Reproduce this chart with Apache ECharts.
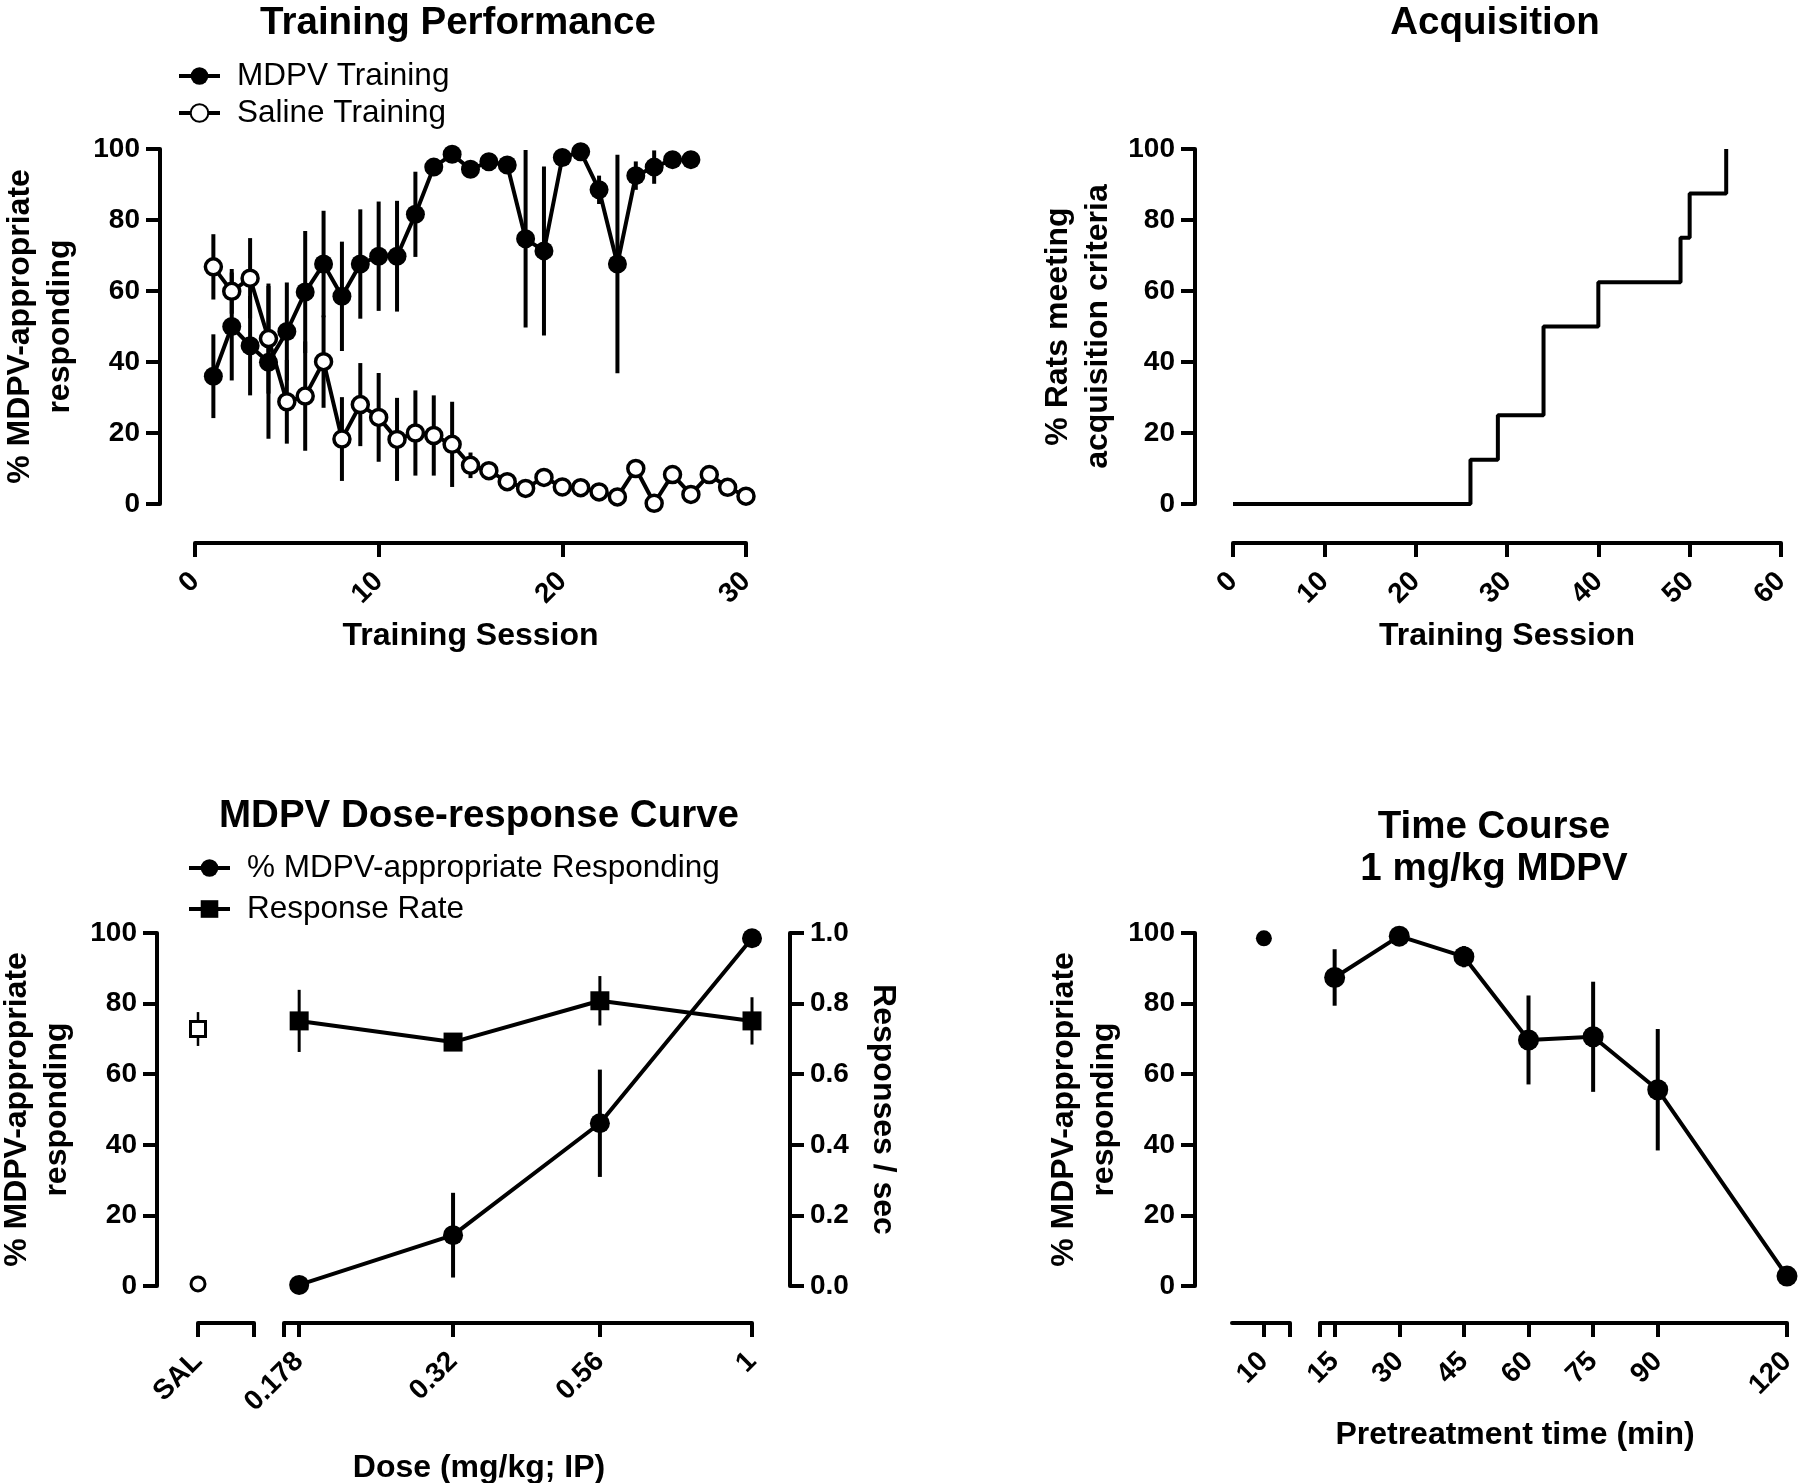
<!DOCTYPE html>
<html><head><meta charset="utf-8">
<script src="https://cdn.jsdelivr.net/npm/echarts@6/dist/echarts.min.js"></script>
<style>html,body{margin:0;padding:0;background:#fff}#c{width:1800px;height:1483px}</style>
</head><body><div id="c"></div>
<script>
// ---------- DATA ----------
const sessions = [1,2,3,4,5,6,7,8,9,10,11,12,13,14,15,16,17,18,19,20,21,22,23,24,25,26,27,28,29,30];
const mdpvTraining = [36,50,44.6,39.9,48.6,59.7,67.6,58.5,67.6,69.8,69.8,81.6,94.9,98.5,94.3,96.4,95.5,74.7,71.3,97.6,99.2,88.5,67.6,92.5,94.9,97,97];
const mdpvTrainingErr = [11.8,15.2,14,21.5,13.8,17.2,15,15.4,15.4,15.4,15.6,12,1.5,1.5,2,1.5,2,25,23.8,1,1,4,30.8,4,4.7,1.5,1];
const salineTraining = [66.8,59.9,63.6,46.6,28.8,30.4,40.1,18.3,28,24.4,18.2,20,19.3,16.8,10.9,9.4,6.3,4.4,7.5,4.8,4.6,3.4,2.0,10,0.2,8.3,2.7,8.3,4.7,2.2];
const salineTrainingErr = [9.2,6.3,11.3,15.5,11.8,15.4,13,11.8,11.7,12.5,11.7,12,11.3,12,3.6,1,1,1,1,1,1,1,1,1,1,1,1,1,1,1];

const acqSessions = [0,26,29,34,40,49,50,54];
const acqPercent = [0,12.5,25,50,62.5,75,87.5,100];

const doseLabels = ['0.178','0.32','0.56','1'];
const doses = [0.178,0.32,0.56,1];
const pctResponding = [0.3,14.4,46.1,98.5];
const pctRespondingErr = [0,12,15.2,1];
const responseRate = [0.751,0.691,0.808,0.751];
const responseRateErr = [0.088,0.02,0.07,0.067];
const salLabel = 'SAL';
const salPct = 0.6;
const salRate = 0.728;
const salRateErr = 0.048;

const timeSingle = [10];
const timeSingleVal = [98.5];
const times = [15,30,45,60,75,90,120];
const timeVals = [87.4,99.1,93.3,69.7,70.6,55.6,2.8];
const timeErr = [8,1,3,12.6,15.6,17.2,0];

// ---------- STYLE HELPERS ----------
const FONT = 'Liberation Sans';
const LW = 4;
const axisLine = {show:true, onZero:false, lineStyle:{color:'#000', width:LW}};
const axisTick = {show:true, length:14, lineStyle:{color:'#000', width:LW}};
const tickLabel = {color:'#000', fontFamily:FONT, fontWeight:'bold', fontSize:28, margin:20};
const xTickLabel = Object.assign({}, tickLabel, {rotate:45, margin:34});
const nameStyle = {color:'#000', fontFamily:FONT, fontWeight:'bold', fontSize:32, lineHeight:40};
const ylabName = '% MDPV-appropriate\nresponding';

function yAxisPct(gridIndex, offset, extra) {
  return Object.assign({type:'value', gridIndex, min:0, max:100, interval:20, offset,
    axisLine, axisTick, axisLabel:tickLabel, splitLine:{show:false},
    nameLocation:'middle', nameRotate:90, nameTextStyle:nameStyle}, extra || {});
}
function hiddenY(gridIndex, max) {
  return {type:'value', gridIndex, min:0, max, show:false, splitLine:{show:false}};
}
function errBars(xi, yi, xs, ys, es, w) {
  return {type:'custom', xAxisIndex:xi, yAxisIndex:yi, z:1, silent:true, clip:false,
    data: xs.map((x,i)=>[x, ys[i], es[i]]),
    renderItem: function(p, api) {
      const x = api.value(0), y = api.value(1), e = api.value(2);
      const a = api.coord([x, y + e]), b = api.coord([x, y - e]);
      return {type:'line', shape:{x1:a[0], y1:a[1], x2:b[0], y2:b[1]},
        style:{stroke:'#000', lineWidth:w || LW}};
    }};
}
const filled = {color:'#000', opacity:1};
const open = {color:'#fff', borderColor:'#000', borderWidth:3.5, opacity:1};
const lineBlack = {color:'#000', width:LW};

const titleStyle = {color:'#000', fontFamily:FONT, fontWeight:'bold', fontSize:38.5, lineHeight:40};
const legendBase = {orient:'vertical', itemWidth:41, itemHeight:22, selectedMode:false,
  lineStyle:{width:4},
  textStyle:{color:'#000', fontFamily:FONT, fontSize:31.5, lineHeight:32, padding:[0,0,0,12]}};

const chart = echarts.init(document.getElementById('c'), null, {renderer:'canvas'});
chart.setOption({
  backgroundColor:'#fff',
  animation:false,
  title:[
    {text:'Training Performance', left:453, top:-2, textAlign:'center', textStyle:titleStyle},
    {text:'Acquisition', left:1490, top:-2, textAlign:'center', textStyle:titleStyle},
    {text:'MDPV Dose-response Curve', left:474, top:791, textAlign:'center', textStyle:titleStyle},
    {text:'Time Course\n1 mg/kg MDPV', left:1489, top:801, textAlign:'center', textStyle:Object.assign({}, titleStyle, {lineHeight:42})},
    {text:'Dose (mg/kg; IP)', left:474, top:1443, textAlign:'center', textStyle:Object.assign({}, nameStyle)},
    {text:'Pretreatment time (min)', left:1510, top:1410, textAlign:'center', textStyle:Object.assign({}, nameStyle)}
  ],
  legend:[
    Object.assign({data:['MDPV Training','Saline Training'], left:172, top:55, itemGap:5}, legendBase),
    Object.assign({data:['% MDPV-appropriate Responding','Response Rate'], left:182, top:847, itemGap:9}, legendBase)
  ],
  grid:[
    {left:195, top:149, width:551, height:355, outerBoundsMode:'none'},
    {left:1233, top:149, width:548, height:355, outerBoundsMode:'none'},
    {left:198, top:933, width:56, height:353, outerBoundsMode:'none'},
    {left:284, top:933, width:468, height:353, outerBoundsMode:'none'},
    {left:1232, top:933, width:58, height:353, outerBoundsMode:'none'},
    {left:1320, top:933, width:467, height:353, outerBoundsMode:'none'}
  ],
  xAxis:[
    {type:'value', gridIndex:0, min:0, max:30, interval:10, offset:39,
     axisLine, axisTick, axisLabel:xTickLabel, splitLine:{show:false},
     name:'Training Session', nameLocation:'middle', nameGap:73, nameTextStyle:nameStyle},
    {type:'value', gridIndex:1, min:0, max:60, interval:10, offset:39,
     axisLine, axisTick, axisLabel:xTickLabel, splitLine:{show:false},
     name:'Training Session', nameLocation:'middle', nameGap:73, nameTextStyle:nameStyle},
    {type:'value', gridIndex:2, min:0, max:1, offset:37,
     axisLine, axisTick:Object.assign({}, axisTick, {customValues:[0,1]}),
     axisLabel:Object.assign({}, xTickLabel, {customValues:[0], formatter:()=>salLabel}),
     splitLine:{show:false}},
    {type:'log', logBase:10, gridIndex:3, min:0.168, max:1, offset:37,
     axisLine, axisTick:Object.assign({}, axisTick, {customValues:[0.168].concat(doses)}),
     axisLabel:Object.assign({}, xTickLabel, {customValues:doses,
       formatter:(v)=>{let bi=0; doses.forEach((d,i)=>{ if (Math.abs(d-v) < Math.abs(doses[bi]-v)) bi=i; }); return doseLabels[bi];}}),
     splitLine:{show:false}},
    {type:'value', gridIndex:4, min:8.9, max:10.9, offset:37,
     axisLine, axisTick:Object.assign({}, axisTick, {customValues:[10,10.9]}),
     axisLabel:Object.assign({}, xTickLabel, {customValues:timeSingle}),
     splitLine:{show:false}},
    {type:'value', gridIndex:5, min:11.6, max:120, offset:37,
     axisLine, axisTick:Object.assign({}, axisTick, {customValues:[11.6].concat(times)}),
     axisLabel:Object.assign({}, xTickLabel, {customValues:times}),
     splitLine:{show:false}}
  ],
  yAxis:[
    yAxisPct(0, 35, {name:ylabName, nameGap:80}),
    yAxisPct(1, 38, {name:'% Rats meeting\nacquisition criteria', nameGap:77}),
    yAxisPct(2, 41, {name:ylabName, nameGap:80}),
    hiddenY(2, 1),
    hiddenY(3, 100),
    {type:'value', gridIndex:3, position:'right', min:0, max:1, interval:0.2, offset:38,
     axisLine, axisTick, axisLabel:Object.assign({}, tickLabel, {formatter:(v)=>v.toFixed(1)}), splitLine:{show:false},
     name:'Responses / sec', nameLocation:'middle', nameRotate:-90, nameGap:73, nameTextStyle:nameStyle},
    yAxisPct(4, 37, {name:ylabName, nameGap:70}),
    hiddenY(5, 100)
  ],
  series:[
    errBars(0, 0, sessions.slice(0, mdpvTraining.length), mdpvTraining, mdpvTrainingErr),
    errBars(0, 0, sessions, salineTraining, salineTrainingErr),
    {type:'line', name:'MDPV Training', xAxisIndex:0, yAxisIndex:0, z:3, clip:false,
     data: mdpvTraining.map((v,i)=>[sessions[i], v]),
     symbol:'circle', symbolSize:19, itemStyle:filled, lineStyle:lineBlack},
    {type:'line', name:'Saline Training', xAxisIndex:0, yAxisIndex:0, z:4, clip:false,
     data: salineTraining.map((v,i)=>[sessions[i], v]),
     symbol:'circle', symbolSize:16, itemStyle:open, lineStyle:lineBlack},

    {type:'line', name:'Acquisition', xAxisIndex:1, yAxisIndex:1, step:'end', clip:false,
     data: acqPercent.map((v,i)=>[acqSessions[i], v]), symbol:'none', lineStyle:lineBlack},

    errBars(3, 4, doses, pctResponding, pctRespondingErr),
    errBars(3, 5, doses, responseRate, responseRateErr, 3),
    errBars(2, 3, [0], [salRate], [salRateErr], 2.5),
    {type:'line', name:'% MDPV-appropriate Responding', xAxisIndex:3, yAxisIndex:4, z:3, clip:false,
     data: pctResponding.map((v,i)=>[doses[i], v]),
     symbol:'circle', symbolSize:20, itemStyle:filled, lineStyle:lineBlack},
    {type:'line', name:'Response Rate', xAxisIndex:3, yAxisIndex:5, z:3, clip:false,
     data: responseRate.map((v,i)=>[doses[i], v]),
     symbol:'rect', symbolSize:19, itemStyle:filled, lineStyle:lineBlack},
    {type:'scatter', name:'SAL %', xAxisIndex:2, yAxisIndex:2, z:3, clip:false,
     data:[[0, salPct]], symbol:'circle', symbolSize:14, itemStyle:{color:'#fff', borderColor:'#000', borderWidth:3, opacity:1}},
    {type:'scatter', name:'SAL rate', xAxisIndex:2, yAxisIndex:3, z:3, clip:false,
     data:[[0, salRate]], symbol:'rect', symbolSize:15, itemStyle:{color:'#fff', borderColor:'#000', borderWidth:3, opacity:1}},

    {type:'scatter', name:'TC10', xAxisIndex:4, yAxisIndex:6, z:3, clip:false,
     data: timeSingle.map((t,i)=>[t, timeSingleVal[i]]), symbol:'circle', symbolSize:16, itemStyle:filled},
    errBars(5, 7, times, timeVals, timeErr),
    {type:'line', name:'Time Course', xAxisIndex:5, yAxisIndex:7, z:3, clip:false,
     data: timeVals.map((v,i)=>[times[i], v]),
     symbol:'circle', symbolSize:21, itemStyle:filled, lineStyle:lineBlack}
  ]
});
</script></body></html>
